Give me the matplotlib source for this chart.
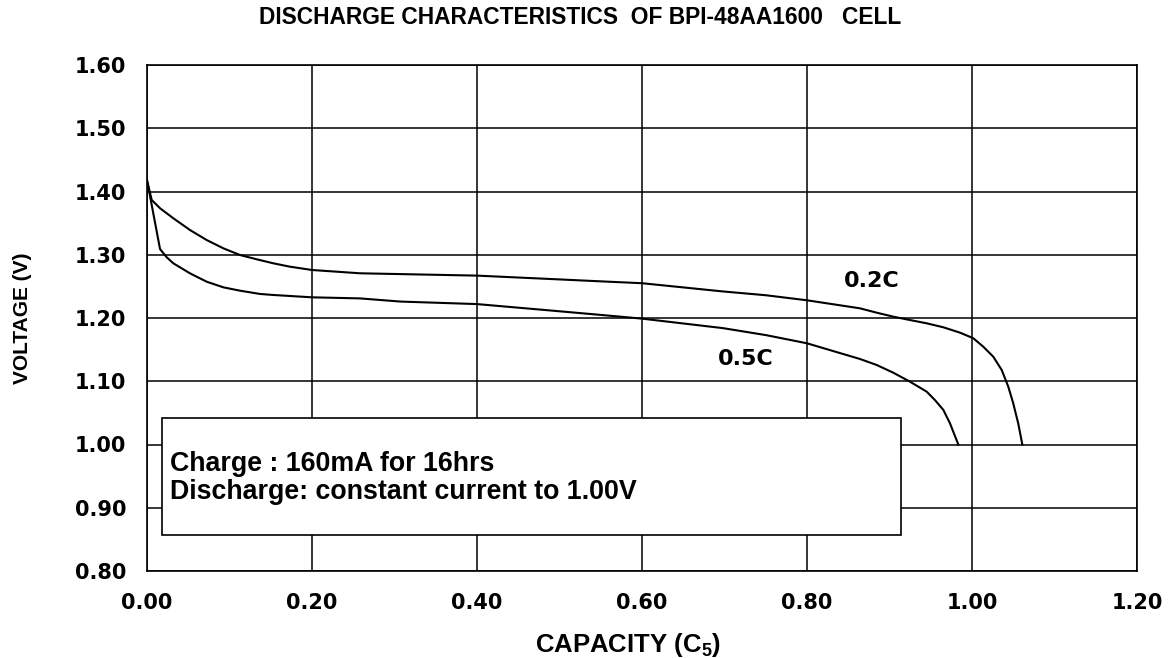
import matplotlib
matplotlib.use("Agg")
import matplotlib.pyplot as plt
from matplotlib.patches import Rectangle

# Data
cap_02c = [0.0, 0.0057, 0.0158, 0.0319, 0.0521, 0.0723, 0.0925, 0.1127, 0.133, 0.153,
           0.173, 0.2, 0.258, 0.4, 0.5, 0.549, 0.6, 0.698, 0.75, 0.8, 0.8642, 0.8845,
           0.9046, 0.9248, 0.9451, 0.9653, 0.9855, 1.0016, 1.0137, 1.0258, 1.036, 1.044,
           1.050, 1.056, 1.061]
volt_02c = [1.418, 1.3866, 1.3735, 1.3577, 1.3391, 1.3233, 1.3102, 1.2996, 1.2928, 1.2865,
            1.2812, 1.2759, 1.2707, 1.267, 1.261, 1.258, 1.255, 1.242, 1.236, 1.228, 1.2153,
            1.2084, 1.2021, 1.1968, 1.1916, 1.1853, 1.1768, 1.168, 1.1546, 1.1388, 1.1178,
            1.0914, 1.065, 1.0335, 1.00]

cap_05c = [0.0, 0.0158, 0.0239, 0.0319, 0.052, 0.0723, 0.0925, 0.1127, 0.137, 0.153,
           0.2, 0.258, 0.307, 0.4, 0.488, 0.549, 0.6, 0.698, 0.75, 0.8, 0.8642, 0.8845,
           0.9046, 0.9248, 0.9451, 0.955, 0.9653, 0.9733, 0.9834]
volt_05c = [1.418, 1.309, 1.296, 1.2865, 1.2707, 1.2574, 1.2485, 1.2432, 1.238, 1.2364,
            1.2327, 1.231, 1.226, 1.222, 1.212, 1.205, 1.199, 1.184, 1.173, 1.160, 1.1352,
            1.1257, 1.1135, 1.0993, 1.0835, 1.0704, 1.0546, 1.0335, 1.00]

x_ticks = [0.0, 0.2, 0.4, 0.6, 0.8, 1.0, 1.2]
y_ticks = [0.8, 0.9, 1.0, 1.1, 1.2, 1.3, 1.4, 1.5, 1.6]

title = "DISCHARGE CHARACTERISTICS  OF BPI-48AA1600   CELL"
note_lines = ["Charge : 160mA for 16hrs", "Discharge: constant current to 1.00V"]

plt.rcParams['mathtext.fontset'] = 'custom'
plt.rcParams['mathtext.bf'] = 'Liberation Sans:bold'
plt.rcParams['mathtext.rm'] = 'Liberation Sans:bold'
plt.rcParams['mathtext.default'] = 'bf'

fig = plt.figure(figsize=(11.72, 6.58), dpi=100)
ax = fig.add_axes([147/1172, 1-571/658, (1137-147)/1172, (571-65)/658])

ax.plot(cap_02c, volt_02c, color='black', lw=1.5, solid_joinstyle='round')
ax.plot(cap_05c, volt_05c, color='black', lw=1.5, solid_joinstyle='round')

ax.set_xlim(0, 1.2)
ax.set_ylim(0.8, 1.6)
ax.set_xticks(x_ticks)
ax.set_yticks(y_ticks)
ax.set_xticklabels([f"{v:.2f}" for v in x_ticks], family='DejaVu Sans', weight='bold', fontsize=15)
ax.set_yticklabels([f"{v:.2f}" for v in y_ticks], family='DejaVu Sans', weight='bold', fontsize=15)
ax.tick_params(axis='x', length=0, pad=16)
ax.tick_params(axis='y', length=0, pad=15)
ax.grid(True, color='black', lw=1.1)
for s in ax.spines.values():
    s.set_linewidth(1.2)
    s.set_color('black')

fig.text(580/1172, 1-17/658, title, ha='center', va='center', family='Liberation Sans',
         weight='bold', fontsize=16.4)
fig.text(22/1172, 1-318/658, "VOLTAGE (V)", ha='center', va='center', rotation=90,
         family='Liberation Sans', weight='bold', fontsize=15)
fig.text(628/1172, 1-645/658, "CAPACITY (C$_5$)", ha='center', va='center',
         family='Liberation Sans', weight='bold', fontsize=18.5)

ax.text(0.878, 1.258, "0.2C", ha='center', va='center', family='DejaVu Sans',
        weight='bold', fontsize=16)
ax.text(0.726, 1.135, "0.5C", ha='center', va='center', family='DejaVu Sans',
        weight='bold', fontsize=16)

box = Rectangle((0.018, 0.857), 0.914-0.018, 1.042-0.857, facecolor='white',
                edgecolor='black', lw=1.2, zorder=3)
ax.add_patch(box)
ax.text(0.028, 0.969, note_lines[0], ha='left', va='center', family='Liberation Sans',
        weight='bold', fontsize=19.3, zorder=4)
ax.text(0.028, 0.925, note_lines[1], ha='left', va='center', family='Liberation Sans',
        weight='bold', fontsize=19.3, zorder=4)

fig.savefig("out.png", dpi=100, facecolor='white')
